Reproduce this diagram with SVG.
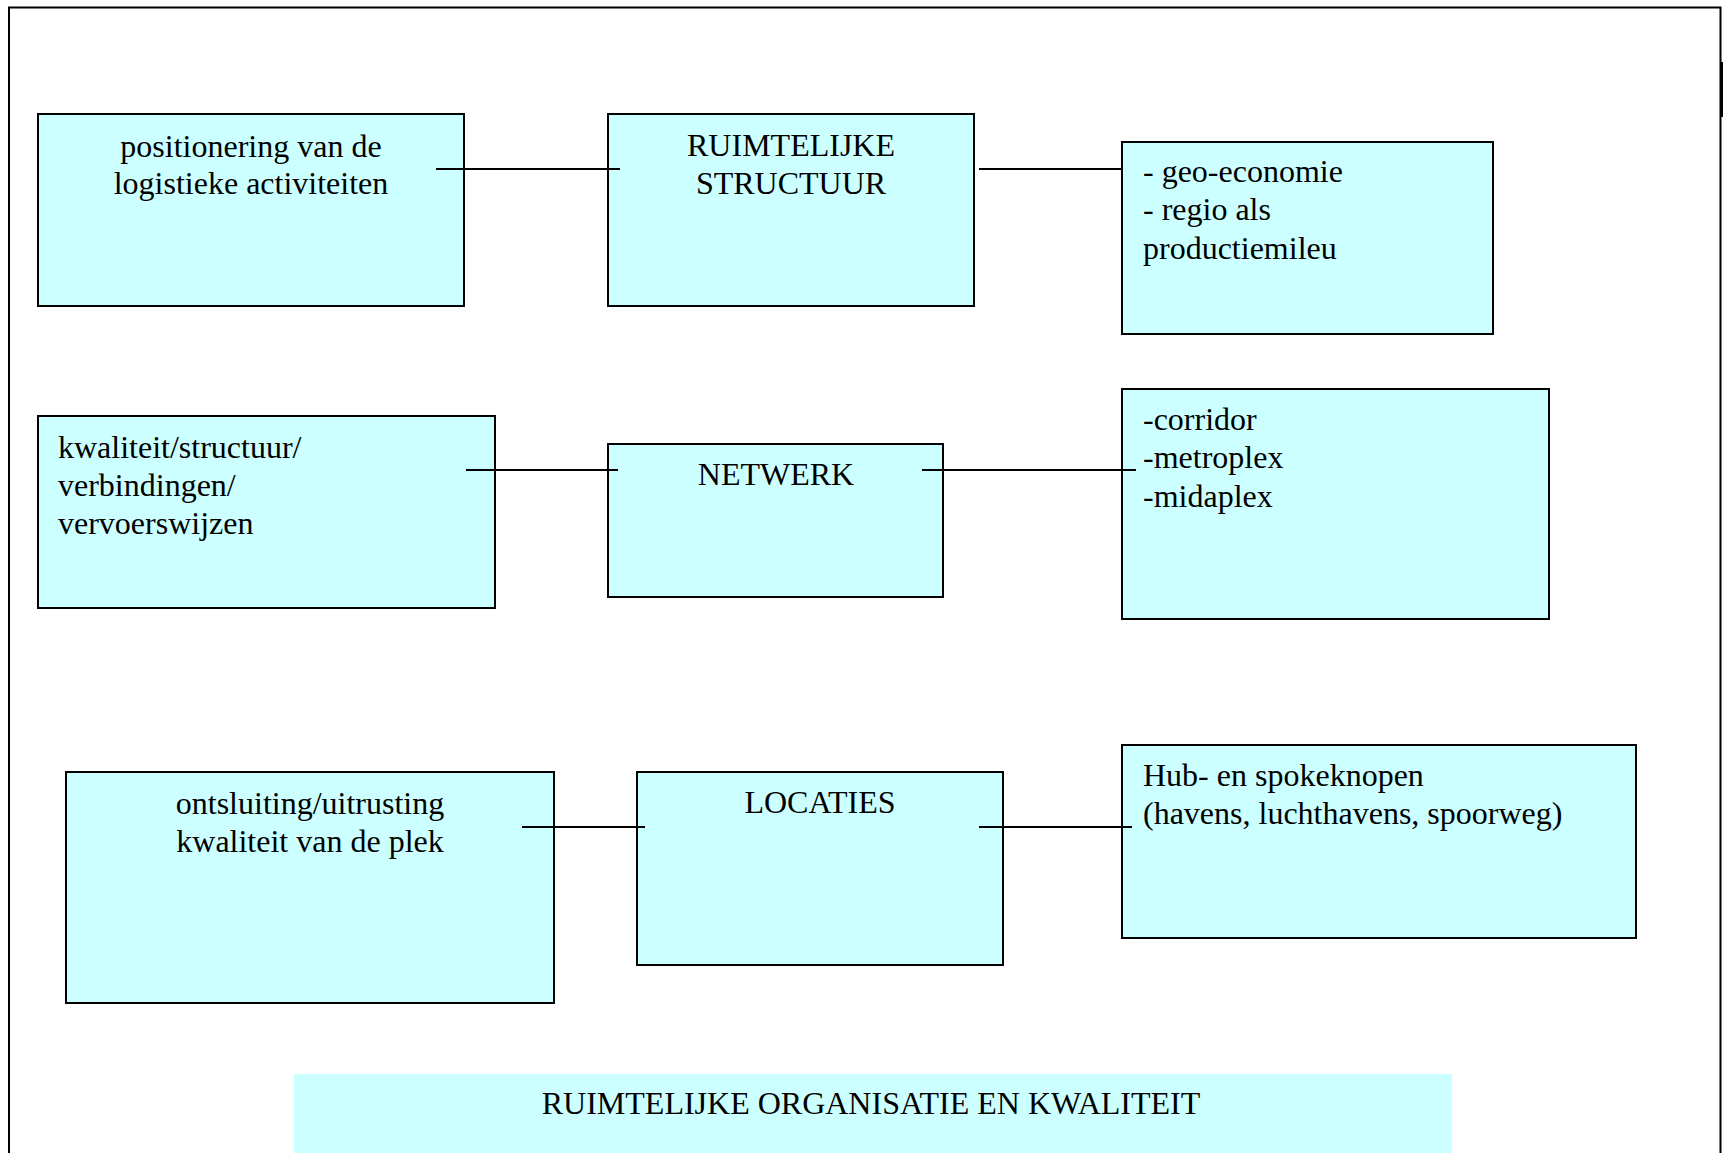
<svg xmlns="http://www.w3.org/2000/svg" width="1723" height="1153" viewBox="0 0 1723 1153">
<style>
.box{fill:#CCFFFF;stroke:#000;stroke-width:2}
.t{font-family:"Liberation Serif","Times New Roman",serif;font-size:32px;fill:#000}
.c{text-anchor:middle}
.ln{stroke:#000;stroke-width:2;fill:none}
</style>
<rect width="1723" height="1153" fill="#fff"/>
<path class="ln" d="M9,1153 V7.5 H1720.5 V1153"/>
<rect x="1720" y="62" width="3" height="55" fill="#000"/>
<g id="n1">
<rect class="box" x="38" y="114" width="426" height="192"/>
<text class="t c" x="251" y="157">positionering van de</text>
<text class="t c" x="251" y="194">logistieke activiteiten</text>
</g>
<g id="n2">
<rect class="box" x="608" y="114" width="366" height="192"/>
<text class="t c" x="791" y="156">RUIMTELIJKE</text>
<text class="t c" x="791" y="194">STRUCTUUR</text>
</g>
<g id="n3">
<rect class="box" x="1122" y="142" width="371" height="192"/>
<text class="t" x="1143" y="182">- geo-economie</text>
<text class="t" x="1143" y="220">- regio als</text>
<text class="t" x="1143" y="259">productiemileu</text>
</g>
<g id="n4">
<rect class="box" x="38" y="416" width="457" height="192"/>
<text class="t" x="58" y="458">kwaliteit/structuur/</text>
<text class="t" x="58" y="496">verbindingen/</text>
<text class="t" x="58" y="534">vervoerswijzen</text>
</g>
<g id="n5">
<rect class="box" x="608" y="444" width="335" height="153"/>
<text class="t c" x="776" y="485">NETWERK</text>
</g>
<g id="n6">
<rect class="box" x="1122" y="389" width="427" height="230"/>
<text class="t" x="1143" y="430">-corridor</text>
<text class="t" x="1143" y="468">-metroplex</text>
<text class="t" x="1143" y="507">-midaplex</text>
</g>
<g id="n7">
<rect class="box" x="66" y="772" width="488" height="231"/>
<text class="t c" x="310" y="814">ontsluiting/uitrusting</text>
<text class="t c" x="310" y="852">kwaliteit van de plek</text>
</g>
<g id="n8">
<rect class="box" x="637" y="772" width="366" height="193"/>
<text class="t c" x="820" y="813">LOCATIES</text>
</g>
<g id="n9">
<rect class="box" x="1122" y="745" width="514" height="193"/>
<text class="t" x="1143" y="786">Hub- en spokeknopen</text>
<text class="t" x="1143" y="824">(havens, luchthavens, spoorweg)</text>
</g>
<g id="n10">
<rect x="294" y="1074" width="1158" height="79" fill="#CCFFFF"/>
<text class="t c" x="871" y="1114">RUIMTELIJKE ORGANISATIE EN KWALITEIT</text>
</g>
<g id="connectors">
<line class="ln" x1="436" y1="169" x2="620" y2="169"/>
<line class="ln" x1="979" y1="169" x2="1122" y2="169"/>
<line class="ln" x1="466" y1="470" x2="618" y2="470"/>
<line class="ln" x1="922" y1="470" x2="1136" y2="470"/>
<line class="ln" x1="522" y1="827" x2="645" y2="827"/>
<line class="ln" x1="979" y1="827" x2="1132" y2="827"/>
</g>
</svg>
